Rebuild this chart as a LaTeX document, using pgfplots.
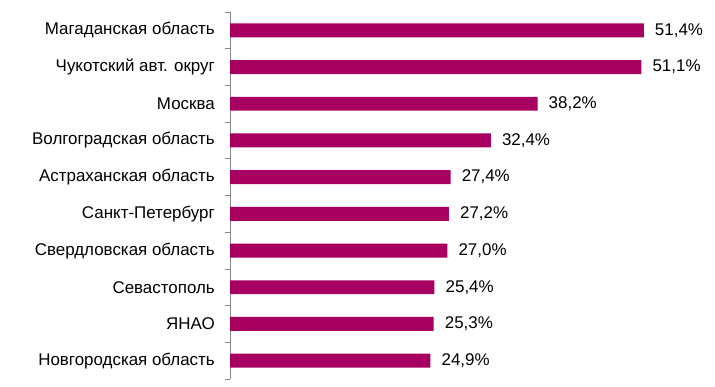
\documentclass[border=0pt]{standalone}
\usepackage{fontspec}
\setmainfont{Liberation Sans}
\usepackage{pgfplots}
\pgfplotsset{compat=1.18}
\definecolor{barc}{RGB}{168,0,96}
\definecolor{axc}{RGB}{134,134,134}
\begin{document}
\fontsize{17}{20}\selectfont
\begin{tikzpicture}
\useasboundingbox (0,0) rectangle (715bp,387bp);
\begin{axis}[
  at={(230bp,8bp)}, anchor=south west,
  scale only axis, width=483bp, height=367bp,
  xmin=0, xmax=60, ymin=-0.5, ymax=9.5, y dir=reverse,
  axis x line=none, axis y line*=left,
  y axis line style={draw=axc, line width=0.8pt},
  ytick={0,...,9},
  yticklabels={Магаданская область, Чукотский авт. округ, Москва, Волгоградская область, Астраханская область, Санкт-Петербург, Свердловская область, Севастополь, ЯНАО, Новгородская область},
  major tick length=0pt,
  minor ytick={-0.5,0.5,...,9.5},
  minor tick length=5bp, tick align=outside,
  minor tick style={draw=axc, line width=0.8pt},
  yticklabel style={anchor=east, inner sep=0pt, xshift=-15bp, font=\fontsize{17}{20}\selectfont},
  /pgf/number format/assume math mode=true,
  xbar, bar width=0.38,
  nodes near coords={\pgfmathprintnumber[fixed,zerofill,precision=1,use comma]{\pgfplotspointmeta}\%},
  nodes near coords style={font=\fontsize{17}{20}\selectfont, anchor=west, inner sep=0pt, xshift=11bp, text=black},
  clip=false,
]
\addplot[fill=barc, draw=none] coordinates {
(51.4,0) (51.1,1) (38.2,2) (32.4,3) (27.4,4) (27.2,5) (27.0,6) (25.4,7) (25.3,8) (24.9,9)};
\end{axis}
\end{tikzpicture}
\end{document}
